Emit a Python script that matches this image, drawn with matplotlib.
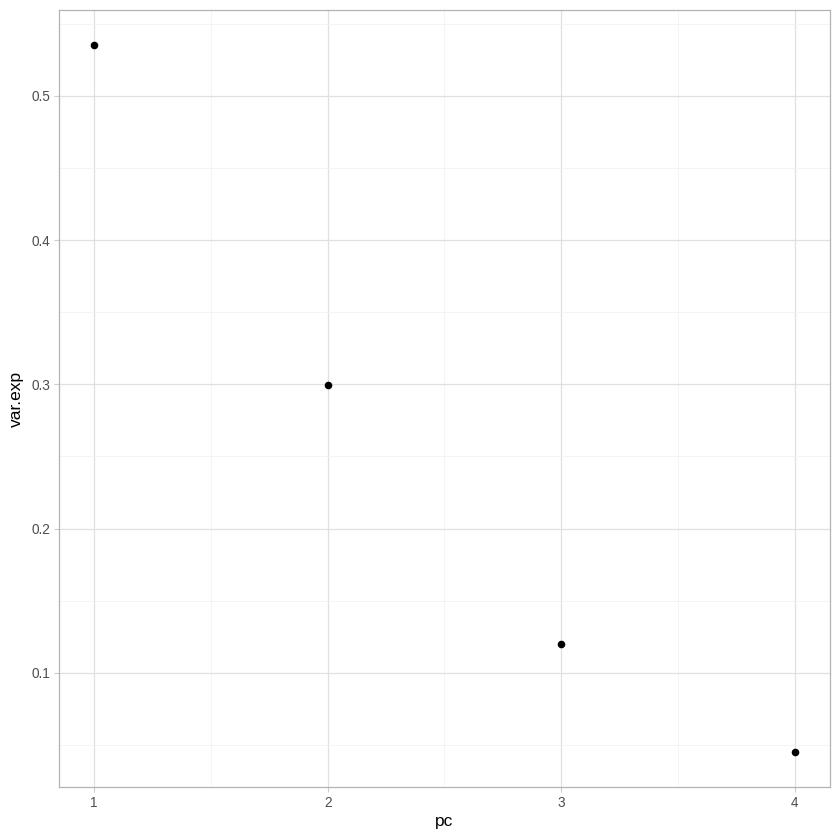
import matplotlib
matplotlib.use("Agg")
import matplotlib.pyplot as plt
import numpy as np

plt.rcParams['font.family'] = ['Liberation Sans', 'DejaVu Sans']

# data
pc = [1, 2, 3, 4]
var_exp = [0.535, 0.2995, 0.1201, 0.0453]

fig = plt.figure(figsize=(8.4, 8.4), dpi=100)
ax = fig.add_axes([59/840, 53/840, 771/840, 777/840])

ax.scatter(pc, var_exp, s=30, color='black', zorder=3, linewidths=0)

# limits with ggplot-style 5% expansion
xr = max(pc) - min(pc)
yr = max(var_exp) - min(var_exp)
ax.set_xlim(min(pc) - 0.05*xr, max(pc) + 0.05*xr)
ax.set_ylim(min(var_exp) - 0.05*yr, max(var_exp) + 0.05*yr)

ax.set_xticks(pc)
ax.set_yticks([0.1, 0.2, 0.3, 0.4, 0.5])
ax.set_xticks([1.5, 2.5, 3.5], minor=True)
ax.set_yticks([0.05, 0.15, 0.25, 0.35, 0.45, 0.55], minor=True)
ax.grid(True, which='major', color='#e0e0e0', linewidth=0.9)
ax.grid(True, which='minor', color='#f2f2f2', linewidth=0.6)
ax.set_axisbelow(True)

ax.tick_params(which='major', length=3.5, width=0.8, color='#cccccc',
               labelsize=9.8, labelcolor='#4d4d4d', pad=3)
ax.tick_params(which='minor', length=0)
for s in ax.spines.values():
    s.set_color('#b3b3b3')
    s.set_linewidth(0.9)

ax.set_xlabel('pc', fontsize=12.5, labelpad=3)
ax.set_ylabel('var.exp', fontsize=12.5, labelpad=5)

fig.savefig('out.png', dpi=100)
